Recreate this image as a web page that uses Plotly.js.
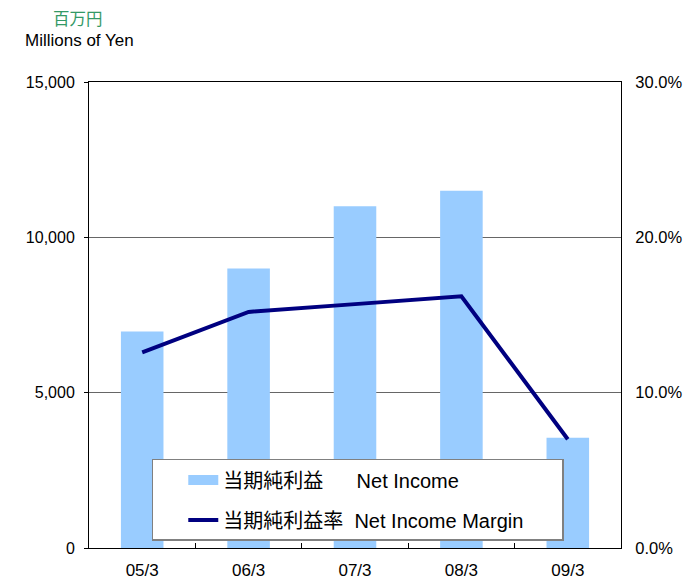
<!DOCTYPE html>
<html><head><meta charset="utf-8">
<script src="https://cdn.plot.ly/plotly-3.0.1.min.js"></script>
<style>html,body{margin:0;padding:0;background:#fff;}#chart{width:684px;height:581px;}</style>
</head><body><div id="chart"></div>
<script>
const categories = ["05/3", "06/3", "07/3", "08/3", "09/3"];
const netIncome = [6970, 9000, 11000, 11500, 3550];
const netIncomeMargin = [12.6, 15.2, 15.7, 16.2, 7.0];
const leftTicks = [0, 5000, 10000, 15000];
const leftTickText = ["0", "5,000", "10,000", "15,000"];
const rightTicks = [0, 10, 20, 30];
const rightTickText = ["0.0%", "10.0%", "20.0%", "30.0%"];

const FONT = "Liberation Sans, Arial, Noto Sans CJK JP, sans-serif";
const NB = "\u00a0";
const BAR_COLOR = "#99ccff";

const traces = [
  {
    type: "bar", x: categories, y: netIncome,
    name: "当期純利益", showlegend: false,
    marker: {color: BAR_COLOR}
  },
  {
    type: "scatter", mode: "lines", x: categories, y: netIncomeMargin, yaxis: "y2",
    name: "当期純利益率" + NB.repeat(2) + "Net Income Margin" + NB.repeat(6),
    line: {color: "#000080", width: 4}, legendgroup: "b", legendrank: 2
  },
  {
    // legend swatch for the bar series (wide rectangle as in the reference)
    type: "scatter", mode: "lines", x: categories, y: categories.map(() => null),
    name: "当期純利益" + NB.repeat(6) + "Net Income",
    line: {color: BAR_COLOR, width: 14}, legendgroup: "a", legendrank: 1,
    hoverinfo: "skip"
  }
];

const layout = {
  width: 684, height: 581,
  margin: {l: 89, r: 63, t: 82, b: 33},
  paper_bgcolor: "#fff", plot_bgcolor: "#fff",
  font: {family: FONT, size: 16, color: "#000"},
  bargap: 0.6,
  showlegend: true,
  legend: {
    x: 0.118, y: 0.191, xanchor: "left", yanchor: "top",
    bordercolor: "#808080", borderwidth: 1.5, bgcolor: "#fff",
    font: {family: FONT, size: 20, color: "#000"},
    traceorder: "grouped", tracegroupgap: 11, itemwidth: 30,
    indentation: 30
  },
  xaxis: {
    type: "category", showline: true, linecolor: "#000", linewidth: 1, mirror: true,
    ticks: "inside", ticklen: 5, tickcolor: "#000", tickson: "boundaries",
    showgrid: false, tickfont: {size: 17}, ticklabelstandoff: 7, fixedrange: true
  },
  yaxis: {
    range: [0, 15000], tickmode: "array", tickvals: leftTicks, ticktext: leftTickText,
    showline: true, linecolor: "#000", linewidth: 1,
    ticks: "outside", ticklen: 4, tickcolor: "#000",
    showgrid: true, gridcolor: "#666", gridwidth: 1, zeroline: false,
    tickfont: {size: 16}, ticklabelstandoff: 6, fixedrange: true
  },
  yaxis2: {
    overlaying: "y", side: "right", range: [0, 30],
    tickmode: "array", tickvals: rightTicks, ticktext: rightTickText,
    showline: true, linecolor: "#000", linewidth: 1,
    ticks: "", showgrid: false, zeroline: false,
    tickfont: {size: 16.5}, ticklabelstandoff: 10, fixedrange: true
  },
  annotations: [
    {text: "百万円", xref: "paper", yref: "paper", x: -0.02, y: 1.137, xanchor: "center", yanchor: "middle",
     showarrow: false, font: {size: 16.5, color: "#339966", family: "Noto Sans CJK JP, sans-serif"}},
    {text: "Millions of Yen", xref: "paper", yref: "paper", x: -0.124, y: 1.09, xanchor: "left", yanchor: "middle",
     showarrow: false, font: {size: 17, color: "#000", family: FONT}}
  ]
};

Plotly.newPlot("chart", traces, layout, {displayModeBar: false, staticPlot: true});
</script></body></html>
